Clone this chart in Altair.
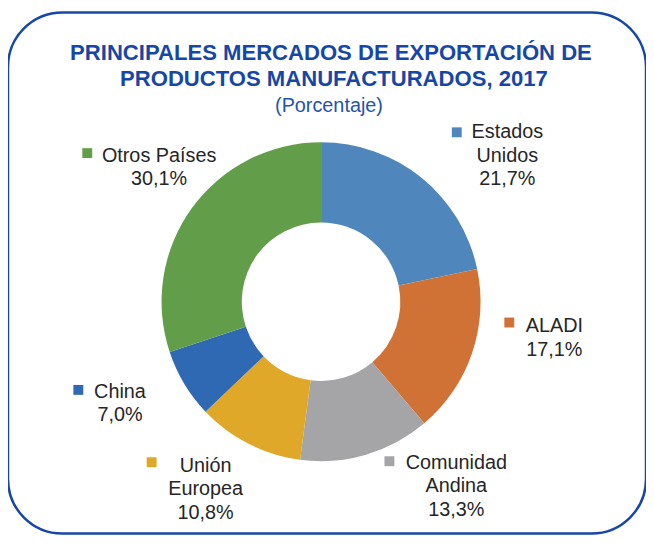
import altair as alt
import pandas as pd

# ---- data ----
categorias = ["Estados Unidos", "ALADI", "Comunidad Andina", "Unión Europea", "China", "Otros Países"]
valores = [21.7, 17.1, 13.3, 10.8, 7.0, 30.1]
nombres_etiqueta = ["Estados\nUnidos", "ALADI", "Comunidad\nAndina", "Unión\nEuropea", "China", "Otros Países"]
colores = ["#4F87BD", "#D07236", "#A5A5A8", "#E0A829", "#2F68B3", "#629E4A"]

titulo_1 = "PRINCIPALES MERCADOS DE EXPORTACIÓN DE"
titulo_2 = "PRODUCTOS MANUFACTURADOS, 2017"
subtitulo = "(Porcentaje)"

df = pd.DataFrame({
    "cat": categorias,
    "value": valores,
    "idx": list(range(len(categorias))),
    "label": [n + "\n" + f"{v:.1f}".replace(".", ",") + "%" for n, v in zip(nombres_etiqueta, valores)],
})

FONT = "Liberation Sans"
TEXT_COLOR = "#262626"
BLUE = "#1747A6"
CX, CY = 316, 292

color_scale = alt.Scale(domain=categorias, range=colores)

base = alt.Chart(df)

donut = base.mark_arc(outerRadius=161, innerRadius=80, stroke=None).encode(
    theta=alt.Theta("value:Q", stack=True),
    order=alt.Order("idx:Q"),
    color=alt.Color("cat:N", scale=color_scale, legend=None),
    x=alt.value(CX),
    y=alt.value(CY),
)

# label anchor positions (annotation placement, first line)
label_pos = {
    "Estados Unidos": (504, 121),
    "ALADI": (551.5, 317),
    "Comunidad Andina": (452.5, 455),
    "Unión Europea": (199.5, 458),
    "China": (113, 383),
    "Otros Países": (152.5, 145),
}
square_pos = {
    "Estados Unidos": (453, 121),
    "ALADI": (506, 313),
    "Comunidad Andina": (385, 453),
    "Unión Europea": (145, 454),
    "China": (71, 381),
    "Otros Países": (80, 142),
}

layers = [donut]
for c in categorias:
    lx, ly = label_pos[c]
    sx, sy = square_pos[c]
    layers.append(
        base.transform_filter(alt.datum.cat == c).mark_text(
            font=FONT, fontSize=20, color=TEXT_COLOR, align="center",
            baseline="middle", lineBreak="\n", lineHeight=23.5,
        ).encode(text="label:N", x=alt.value(lx), y=alt.value(ly))
    )
    layers.append(
        base.transform_filter(alt.datum.cat == c).mark_square(size=100, opacity=1).encode(
            color=alt.Color("cat:N", scale=color_scale, legend=None),
            x=alt.value(sx), y=alt.value(sy),
        )
    )

one = alt.Chart(alt.Data(values=[{}]))
layers.append(one.mark_text(text=titulo_1, font=FONT, fontSize=22.3, fontWeight="bold",
                            color=BLUE, align="center", baseline="middle").encode(
    x=alt.value(326), y=alt.value(41)))
layers.append(one.mark_text(text=titulo_2, font=FONT, fontSize=22.3, fontWeight="bold",
                            color=BLUE, align="center", baseline="middle").encode(
    x=alt.value(329), y=alt.value(67)))
layers.append(one.mark_text(text=subtitulo, font=FONT, fontSize=20,
                            color="#2453B0", align="center", baseline="middle").encode(
    x=alt.value(324), y=alt.value(94)))

chart = alt.layer(*layers).properties(
    width=644, height=526,
    autosize=alt.AutoSizeParams(type="none"),
    padding={"left": 0, "top": 2, "right": 0, "bottom": 0},
).configure_view(
    stroke=BLUE, strokeWidth=2.5, cornerRadius=55, fill="white",
)

chart.save("out.html", embed_options={"renderer": "svg", "actions": False})
